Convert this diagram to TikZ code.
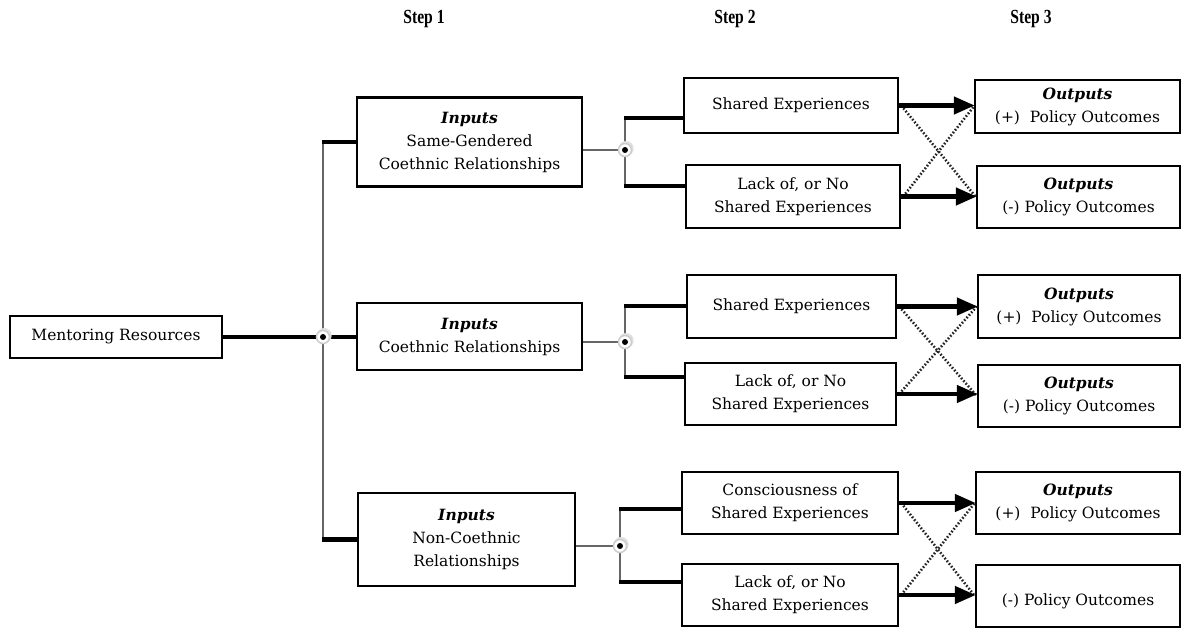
\documentclass[tikz,border=0pt]{standalone}
\usepackage{fontspec}
\setmainfont{DejaVu Serif}
\newfontfamily\headfont[FakeStretch=0.78]{Liberation Serif}
\usetikzlibrary{arrows.meta}
\begin{document}
\begin{tikzpicture}[x=1pt,y=-1pt,
  box/.style={draw=black,line width=2.4pt,fill=white,inner sep=0pt,align=center,
    font=\fontsize{15.5}{23}\selectfont},
  thinln/.style={draw=black!60,line width=1.4pt},
  thickln/.style={draw=black,line width=4.5pt},
  arr/.style={draw=black,line width=4.5pt,-{Triangle[length=21pt,width=17pt]},shorten >=-1pt},
  dotln/.style={draw=black!85,line width=2.6pt,dash pattern=on 1.6pt off 1.9pt},
  jdot/.style={circle,fill=white,draw=black!20,line width=1.5pt,minimum size=13pt,inner sep=0pt},
  hd/.style={font=\headfont\bfseries\fontsize{20}{22}\selectfont}
]
\useasboundingbox (0,0) rectangle (1186,631);
\fill[white] (0,0) rectangle (1186,631);
\newcommand\ib{\textbf{\textit{Inputs}}}
\newcommand\ob{\textbf{\textit{Outputs}}}
% headers
\node[hd] (h1) at (424,19) {Step 1};
\node[hd] (h2) at (735,19) {Step 2};
\node[hd] (h3) at (1031,19) {Step 3};
% main
\node[box,minimum width=212pt,minimum height=42pt] (ment) at (116,337) {Mentoring Resources};
% inputs
\node[box,minimum width=225pt,minimum height=89pt] (in1) at (469.5,142) {\ib\\Same-Gendered\\Coethnic Relationships};
\node[box,minimum width=225pt,minimum height=67pt] (in2) at (469.5,336.5) {\ib\\Coethnic Relationships};
\node[box,minimum width=217pt,minimum height=93pt] (in3) at (466.5,539.5) {\ib\\Non-Coethnic\\Relationships};
% step 2
\node[box,minimum width=214pt,minimum height=55pt] (s1a) at (791,105.5) {Shared Experiences};
\node[box,minimum width=214pt,minimum height=63pt] (s1b) at (793,196.5) {Lack of, or No\\Shared Experiences};
\node[box,minimum width=209pt,minimum height=63pt] (s2a) at (791.5,306.5) {Shared Experiences};
\node[box,minimum width=211pt,minimum height=62pt] (s2b) at (790.5,394) {Lack of, or No\\Shared Experiences};
\node[box,minimum width=216pt,minimum height=62pt] (s3a) at (790,503) {Consciousness of\\Shared Experiences};
\node[box,minimum width=216pt,minimum height=62pt] (s3b) at (790,595) {Lack of, or No\\Shared Experiences};
% outputs
\node[box,minimum width=205pt,minimum height=53pt] (o1a) at (1077.5,106.5) {\ob\\(+)\ \ Policy Outcomes};
\node[box,minimum width=203pt,minimum height=62pt] (o1b) at (1078.5,197) {\ob\\(-) Policy Outcomes};
\node[box,minimum width=202pt,minimum height=63pt] (o2a) at (1079,306.5) {\ob\\(+)\ \ Policy Outcomes};
\node[box,minimum width=202pt,minimum height=62pt] (o2b) at (1079,396) {\ob\\(-) Policy Outcomes};
\node[box,minimum width=204pt,minimum height=62pt] (o3a) at (1078,503) {\ob\\(+)\ \ Policy Outcomes};
\node[box,minimum width=204pt,minimum height=62pt] (o3b) at (1078,596) {~\\(-) Policy Outcomes};
% junction coordinates
\coordinate (jm) at (323,337);
\coordinate (d1) at (625,150);
\coordinate (d2) at (625,342);
\coordinate (d3) at (620,546);
\coordinate (b1t) at (625,118); \coordinate (b1b) at (625,186);
\coordinate (b2t) at (625,306); \coordinate (b2b) at (625,377);
\coordinate (b3t) at (620,509); \coordinate (b3b) at (620,582);
% main trunk
\draw[thickln] (ment.east) -- (jm);
\draw[thinln] (jm |- in1.west) -- (jm |- in3.west);
\draw[thickln] ([xshift=-0.6pt]jm |- in1.west) -- (in1.west);
\draw[thickln] (jm) -- (jm -| in2.west);
\draw[thickln] ([xshift=-0.6pt]jm |- in3.west) -- (in3.west);
% input to brackets
\foreach \k in {1,2,3}{
  \draw[thinln,line width=1.1pt] (in\k.east |- d\k) -- (d\k);
  \draw[thinln] (b\k t) -- (b\k b);
}
\draw[thickln] ([xshift=-0.6pt]b1t) -- (b1t -| s1a.west);
\draw[thickln] ([xshift=-0.6pt]b1b) -- (b1b -| s1b.west);
\draw[thickln] ([xshift=-0.6pt]b2t) -- (b2t -| s2a.west);
\draw[thickln] ([xshift=-0.6pt]b2b) -- (b2b -| s2b.west);
\draw[thickln] ([xshift=-0.6pt]b3t) -- (b3t -| s3a.west);
\draw[thickln] ([xshift=-0.6pt]b3b) -- (b3b -| s3b.west);
% dots
\foreach \p in {jm,d1,d2,d3}{
  \fill[black!12] ([xshift=1.2pt,yshift=1.5pt]\p) circle (7.5pt);
  \node[jdot] at (\p) {};
  \fill[black] (\p) circle (3pt);
}
% arrows and crosses
\foreach \k in {1,2,3}{
  \draw[dotln] ([xshift=2pt]s\k a.east) -- (o\k b.west);
  \draw[dotln] ([xshift=2pt]s\k b.east) -- (o\k a.west);
  \draw[arr] (s\k a.east) -- (s\k a.east -| o\k a.west);
  \draw[arr] (s\k b.east) -- (s\k b.east -| o\k b.west);
}
\end{tikzpicture}
\end{document}
